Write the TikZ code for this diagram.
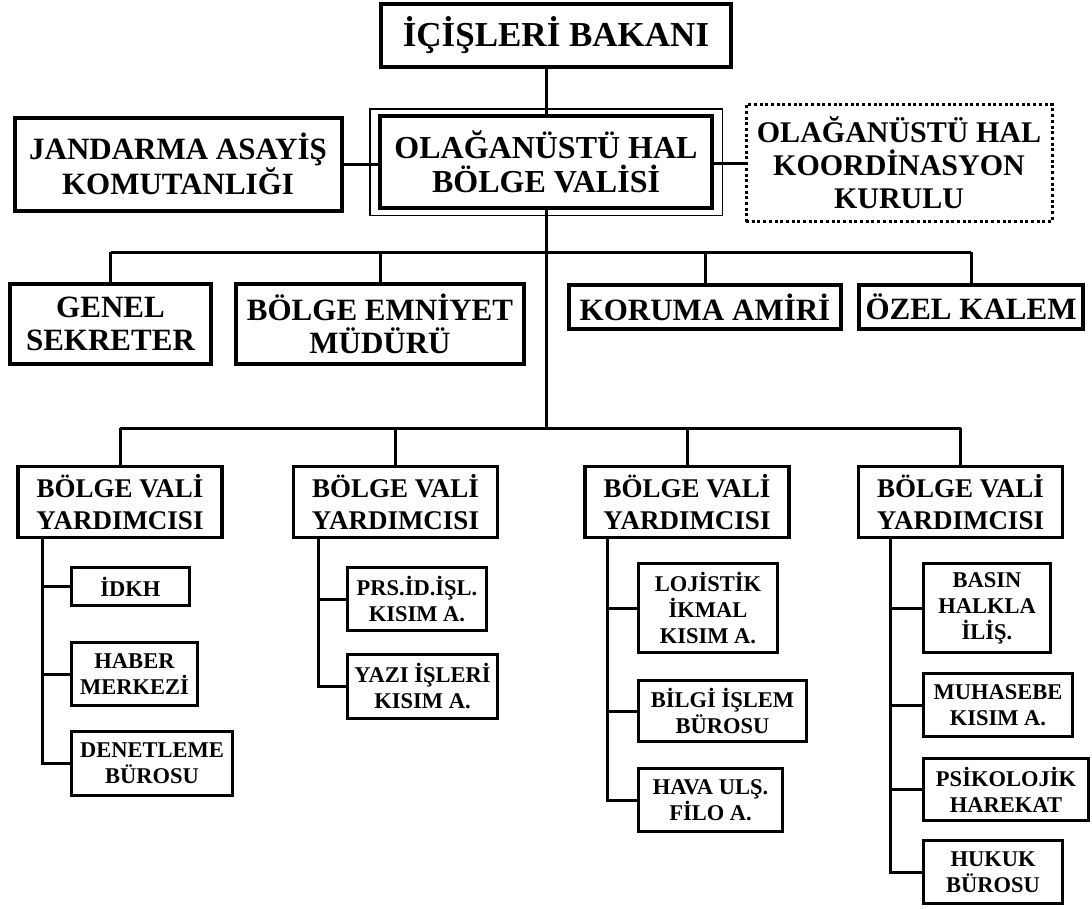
\documentclass[tikz,border=0pt]{standalone}
\usepackage{fontspec}
\setmainfont{Liberation Serif}
\begin{document}
\begin{tikzpicture}[x=1pt,y=-1pt,
  bx/.style={draw, line width=4pt, align=center, inner sep=0pt},
  sbx/.style={draw, line width=3.2pt, align=center, inner sep=0pt},
  fA/.style={font=\fontsize{35}{37}\selectfont\bfseries},
  fB/.style={font=\fontsize{31}{33}\selectfont\bfseries},
  fC/.style={font=\fontsize{27}{31.5}\selectfont\bfseries},
  fD/.style={font=\fontsize{22.5}{26}\selectfont\bfseries},
  ln/.style={line width=3pt}]
\useasboundingbox[fill=white] (0,0) rectangle (1092,908);

% top levels
\node[bx,fA,minimum width=350pt,minimum height=63pt] (top) at (556,35) {İÇİŞLERİ BAKANI};
\node[bx,fB,font=\fontsize{32}{34}\selectfont\bfseries,line width=4.5pt,minimum width=332pt,minimum height=92pt] (ohal) at (546,162) {OLAĞANÜSTÜ HAL\\BÖLGE VALİSİ};
\draw[line width=1.5pt] ([shift={(-8,-5)}]ohal.north west) rectangle ([shift={(8,5)}]ohal.south east);
\node[bx,fB,minimum width=327pt,minimum height=93pt] (jand) at (178,164) {JANDARMA ASAYİŞ\\KOMUTANLIĞI};
\node[draw,line width=3pt,dash pattern=on 3pt off 2.7pt,align=center,inner sep=0pt,
      font=\fontsize{30}{33}\selectfont\bfseries,minimum width=306pt,minimum height=117pt] (koor) at (899,163) {OLAĞANÜSTÜ HAL\\KOORDİNASYON\\KURULU};

\draw[ln] (ohal.north |- top.south) -- (ohal.north);
\draw[ln] (jand.east) -- (jand.east -| ohal.west);
\draw[ln] (koor.west) -- (koor.west -| ohal.east);

% second row
\node[bx,fB,minimum width=201pt,minimum height=80pt] (gs) at (110.5,324) {GENEL\\SEKRETER};
\node[bx,fB,minimum width=288pt,minimum height=80pt] (bem) at (380,324) {BÖLGE EMNİYET\\MÜDÜRÜ};
\node[bx,fB,minimum width=272pt,minimum height=44pt] (kor) at (705,307) {KORUMA AMİRİ};
\node[bx,fB,minimum width=224pt,minimum height=44pt] (oz) at (971,307) {ÖZEL KALEM};

\coordinate (j1) at (546,252);
\coordinate (j2) at (546,428);
\draw[ln] (ohal.south) -- (j2);
\draw[ln] (gs.north |- j1) -- (oz.north |- j1);
\foreach \n in {gs,bem,kor,oz} \draw[ln] (\n.north |- j1) -- (\n.north);

% deputy governors
\foreach \n/\x in {b1/120,b2/395.5,b3/687,b4/960.5}
  \node[sbx,fC,minimum width=204pt,minimum height=71pt] (\n) at (\x,502) {BÖLGE VALİ\\YARDIMCISI};
\draw[ln] (b1.north |- j2) -- (b4.north |- j2);
\foreach \n in {b1,b2,b3,b4} \draw[ln] (\n.north |- j2) -- (\n.north);

% column 1
\node[sbx,fD,minimum width=118pt,minimum height=38pt] (c11) at (130.5,586.5) {İDKH};
\node[sbx,fD,minimum width=126pt,minimum height=63pt] (c12) at (134.5,674) {HABER\\MERKEZİ};
\node[sbx,fD,minimum width=161pt,minimum height=64pt] (c13) at (152,763.5) {DENETLEME\\BÜROSU};
\coordinate (t1) at ([xshift=26pt]b1.south west);
\foreach \c in {c11,c12,c13} \draw[ln] (t1) |- (\c.west);

% column 2
\node[sbx,fD,minimum width=139pt,minimum height=63pt] (c21) at (417,599) {PRS.İD.İŞL.\\KISIM A.};
\node[sbx,fD,minimum width=150pt,minimum height=64pt] (c22) at (422.5,686.5) {YAZI İŞLERİ\\KISIM A.};
\coordinate (t2) at ([xshift=27pt]b2.south west);
\foreach \c in {c21,c22} \draw[ln] (t2) |- (\c.west);

% column 3
\node[sbx,fD,minimum width=139pt,minimum height=89pt] (c31) at (708,608) {LOJİSTİK\\İKMAL\\KISIM A.};
\node[sbx,fD,minimum width=168pt,minimum height=61pt] (c32) at (722.5,711) {BİLGİ İŞLEM\\BÜROSU};
\node[sbx,fD,minimum width=144pt,minimum height=63pt] (c33) at (710.5,800) {HAVA ULŞ.\\FİLO A.};
\coordinate (t3) at ([xshift=24.5pt]b3.south west);
\foreach \c in {c31,c32,c33} \draw[ln] (t3) |- (\c.west);

% column 4
\node[sbx,fD,minimum width=127pt,minimum height=89pt] (c41) at (987,608) {BASIN\\HALKLA\\İLİŞ.};
\node[sbx,fD,minimum width=149pt,minimum height=63pt] (c42) at (998,705) {MUHASEBE\\KISIM A.};
\node[sbx,fD,minimum width=165pt,minimum height=62pt] (c43) at (1006,789.5) {PSİKOLOJİK\\HAREKAT};
\node[sbx,fD,minimum width=139pt,minimum height=63pt] (c44) at (993,872) {HUKUK\\BÜROSU};
\coordinate (t4) at ([xshift=34pt]b4.south west);
\foreach \c in {c41,c42,c43,c44} \draw[ln] (t4) |- (\c.west);
\end{tikzpicture}
\end{document}
